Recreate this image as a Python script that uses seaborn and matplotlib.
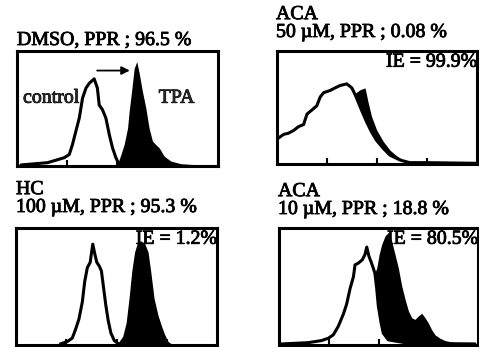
import matplotlib
matplotlib.use("Agg")
import matplotlib.pyplot as plt
import matplotlib.patheffects as pe
import seaborn as sns
import pandas as pd

# ---------------- data (arbitrary channel units 0-100) -------------
# Panel 1: DMSO
p1_ctrl_x = [2, 15.2, 23.5, 26, 27.6, 29.3, 31, 32.6, 34.3, 36, 38.4, 40, 40.9, 42.5, 44.2, 45.9, 47.5, 49.2, 50.8]
p1_ctrl_y = [0.9, 2.9, 7.2, 10, 18.7, 30.3, 41.8, 59, 67.7, 72, 75.8, 67.7, 53, 49, 41.8, 27.4, 15.9, 7.2, 1.4]
p1_tpa_x = [50, 51.7, 53.3, 55, 55.8, 57, 58.3, 59.6, 60.8, 62.4, 64.1, 65.7, 67.4, 69, 70.7, 73.2, 76.5, 81.5, 91.4]
p1_tpa_y = [1.4, 10, 18.7, 33, 47.6, 64.8, 85, 90.8, 80.7, 64.8, 50.4, 33, 21.6, 18.7, 15.9, 8.6, 4.3, 2, 0.9]

# Panel 2: ACA 50 uM
p2_ctrl_x = [0.3, 3.3, 5.8, 8.3, 10.8, 13.3, 15, 17.4, 19.9, 21.6, 23.3, 26.6, 29.1, 31.6, 34.9, 37.4, 39,
             40.7, 42.4, 44.9, 47.3, 49.8, 53.2, 56.5, 61.5, 66.4, 74.8, 100]
p2_ctrl_y = [22.4, 26.2, 27.3, 29.7, 33.1, 34.9, 44.2, 47.7, 51.5, 59.3, 63.1, 65.1, 67.4, 69.5, 70.9, 67.4, 61.6,
             54.4, 47.1, 36.9, 28.2, 20.9, 13.7, 7.8, 3.5, 1.2, 1.2, 0.6]
p2_tpa_x = [0.3, 15, 30, 37.4, 39, 41.5, 44, 45.7, 47.3, 49.8, 53.2, 56.5, 59.8, 63.1, 66.4, 71.4, 100]
p2_tpa_y = [15, 35, 60, 65, 62.5, 65.7, 67.4, 53.5, 41.9, 30.2, 19.8, 12.2, 7.3, 3.5, 1.7, 0.9, 0.6]

# Panel 3: HC 100 uM
p3_ctrl_x = [22.1, 25.5, 28, 29.6, 31.3, 33, 34.2, 35.5, 36.9, 37.5, 38.2, 39.2, 40.2, 41.4, 42.5, 43.6, 44.7,
             45.9, 47.2, 48.9, 50.6]
p3_ctrl_y = [0.9, 2.9, 5.9, 13.2, 22.1, 36.8, 54.4, 66.2, 70.6, 77.9, 86.2, 77.9, 70.6, 67.6, 63.2, 48.5, 33.8,
             20.6, 10.3, 3.8, 1.5]
p3_tpa_x = [50.6, 53.1, 54.8, 56.4, 57.6, 59, 60.3, 62, 64, 65.7, 67, 68.7, 70.7, 72.4, 74, 75.7, 77.4]
p3_tpa_y = [1.5, 7.4, 19.1, 42.6, 63.2, 79.4, 86.8, 89.1, 86.8, 79.4, 63.2, 39.7, 25, 16.2, 8.8, 2.9, 0.9]

# Panel 4: ACA 10 uM
p4_ctrl_x = [1.3, 14.7, 21.4, 24.8, 27.3, 29.8, 32.3, 34, 35.7, 37.4, 38.2, 39.9, 41.9, 43.2, 44.1, 45.2, 46.2,
             47.4, 48.2, 49.1, 49.9, 51.3, 52.4, 54.9, 65, 98.5]
p4_ctrl_y = [0.9, 2, 3.8, 5.8, 8.7, 16, 26.2, 35, 48.1, 58.3, 68.5, 70, 72.9, 77.3, 83.7, 75.8, 71.4,
             65.6, 61.2, 48.1, 33.5, 19, 10.2, 4.4, 1.5, 0.9]
p4_tpa_x = [1.3, 24.8, 34, 40, 46.2, 48.2, 49.1, 50.3, 51.6, 53.3, 55, 56.6, 58.3, 60, 61.6, 63.3, 65, 66.7,
            68.3, 70, 71.7, 73.4, 75, 76.7, 78.4, 80.9, 83.4, 88.4, 98.5]
p4_tpa_y = [0.5, 2, 10, 30, 55, 62, 65.6, 77.3, 86, 93.3, 96.2, 88.9, 77.3, 65.6, 51, 39.4, 29.2, 23.3,
            21.9, 24.8, 27.1, 23.3, 18.9, 13.1, 8.7, 5.8, 3.8, 2, 0.9]

titles = ["DMSO, PPR ; 96.5 %",
          "ACA\n50 \u00b5M, PPR ; 0.08 %",
          "HC\n100 \u00b5M, PPR ; 95.3 %",
          "ACA\n10 \u00b5M, PPR ; 18.8 %"]
ie_labels = [None, "IE = 99.9%", "IE = 1.2%", "IE = 80.5%"]
tick_positions = [25, 50, 75]

# ---------------- figure ----------------
sns.set_theme(style="white")
plt.rcParams["font.family"] = ["Liberation Serif", "DejaVu Serif"]

W, H = 479, 347
fig = plt.figure(figsize=(W / 100, H / 100), dpi=100)
fig.patch.set_facecolor("white")

# axes boxes in pixels: left, top, right, bottom
boxes = [(17, 51, 218, 166), (277, 51, 477, 164), (16, 228, 217, 345), (279, 228, 478, 345)]
title_base = [45, 37, 212, 214]   # baseline of last title line
title_left = [17, 276, 16, 278]

panels = [(p1_ctrl_x, p1_ctrl_y, p1_tpa_x, p1_tpa_y),
          (p2_ctrl_x, p2_ctrl_y, p2_tpa_x, p2_tpa_y),
          (p3_ctrl_x, p3_ctrl_y, p3_tpa_x, p3_tpa_y),
          (p4_ctrl_x, p4_ctrl_y, p4_tpa_x, p4_tpa_y)]

FS = 14.3
heavy = [pe.withStroke(linewidth=0.6, foreground="black")]
for i, (l, t, r, b) in enumerate(boxes):
    ax = fig.add_axes([l / W, (H - b) / H, (r - l) / W, (b - t) / H])
    ax.set_axisbelow(False)
    cx, cy, tx, ty = panels[i]
    ax.fill_between(tx, ty, 0, color="black", lw=0, zorder=1.0)
    ax.fill_between(cx, cy, 0, color="white", lw=0, zorder=1.1)
    dfc = pd.DataFrame({"x": cx, "y": cy})
    sns.lineplot(data=dfc, x="x", y="y", ax=ax, color="black", lw=2.2, sort=False,
                 estimator=None, zorder=2)
    ax.set_xlim(0, 100)
    ax.set_ylim(0, 100)
    ax.set_xlabel("")
    ax.set_ylabel("")
    ax.set_xticks(tick_positions)
    ax.set_xticklabels([])
    ax.set_yticks([])
    ax.tick_params(axis="x", direction="in", length=4, width=1.5, color="black", bottom=True)
    for s in ax.spines.values():
        s.set_color("black")
        s.set_linewidth(2.2)
        s.set_zorder(10)
    if ie_labels[i]:
        ax.text(1.0, 0.985, ie_labels[i], transform=ax.transAxes, ha="right", va="top",
                fontsize=FS, color="black", zorder=0.5, clip_on=False, path_effects=heavy)
    fig.text(title_left[i] / W, (H - title_base[i]) / H, titles[i], ha="left", va="baseline",
             fontsize=FS, color="black", linespacing=0.92, path_effects=heavy)
    if i == 0:
        ax.text(3, 55, "control", fontsize=FS, ha="left", va="baseline", zorder=6, path_effects=heavy)
        ax.text(70.5, 55, "TPA", fontsize=FS, ha="left", va="baseline", zorder=6, path_effects=heavy)
        ax.annotate("", xy=(57.5, 83), xytext=(38.5, 83),
                    arrowprops=dict(arrowstyle="-|>", color="black", lw=1.3, mutation_scale=12),
                    zorder=6)

fig.savefig("out.png", dpi=100, facecolor="white")
